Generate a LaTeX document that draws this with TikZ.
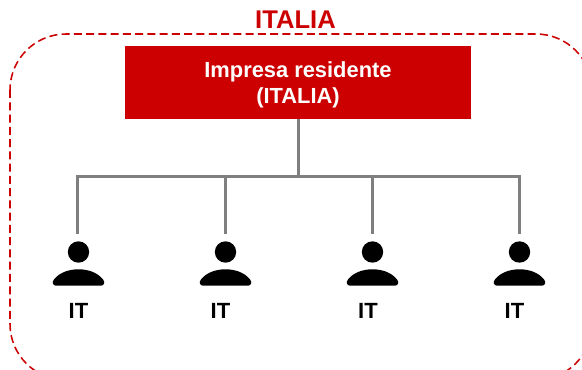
\documentclass[tikz,border=0pt]{standalone}
\usepackage{fontspec}
\setmainfont{Liberation Sans}
\definecolor{itred}{HTML}{CC0000}
\definecolor{linegray}{HTML}{7F7F7F}
\tikzset{
  px/.style={x=0.75pt,y=-0.75pt},
  conn/.style={draw=linegray,line width=2.25pt},
  headbox/.style={fill=itred,minimum width=259.5pt,minimum height=54.75pt,inner sep=0pt},
  headtext/.style={text=white,font=\bfseries\fontsize{16.4}{20}\selectfont,inner sep=0pt},
  lab/.style={font=\bfseries\fontsize{16.5}{20}\selectfont,text=black,inner sep=0pt}
}
\newcommand{\person}[2]{%
  \fill[black] (#1+0.5,#2-16) circle[radius=10.7];
  \fill[black] (#1-22,#2+17.7) .. controls (#1-25,#2+17.7) and (#1-26.5,#2+14) .. (#1-24,#2+11.5) .. controls (#1-19,#2+5) and (#1-10,#2+1.3) .. (#1+0.5,#2+1.3) .. controls (#1+11,#2+1.3) and (#1+20,#2+5) .. (#1+25,#2+11.5) .. controls (#1+27.5,#2+14) and (#1+26,#2+17.7) .. (#1+23,#2+17.7) -- cycle;
}
\begin{document}
\begin{tikzpicture}[px]
\useasboundingbox (0,0) rectangle (582,370);
\begin{scope}
\clip (0,0) rectangle (582,370);
\draw[draw=itred,line width=1.15pt,dash pattern=on 6pt off 3.2pt,rounded corners=42pt] (10,34) rectangle (592,380);
\end{scope}
\node[headbox] (top) at (297.5,82.5) {};
\node[headtext] (t1) at (298,71.5) {Impresa residente};
\node[headtext] (t2) at (298,97.5) {(ITALIA)};
\node[font=\bfseries\fontsize{19.2}{23}\selectfont,text=itred,inner sep=0pt] (title) at (295.5,19.5) {ITALIA};
\coordinate (bus) at (298,177);
\coordinate (d1) at (77,234);
\coordinate (d2) at (225,234);
\coordinate (d3) at (372,234);
\coordinate (d4) at (519,234);
\draw[conn] (top.south -| bus) -- (bus);
\draw[conn] (d1) |- (bus);
\draw[conn] (d4) |- (bus);
\draw[conn] (d2) -- (d2 |- bus);
\draw[conn] (d3) -- (d3 |- bus);
\person{78}{268}
\person{225}{268}
\person{372}{268}
\person{519}{268}
\node[lab] (l1) at (78.5,311) {IT};
\node[lab] (l2) at (220.5,311) {IT};
\node[lab] (l3) at (368,311) {IT};
\node[lab] (l4) at (514.5,311) {IT};
\end{tikzpicture}
\end{document}
